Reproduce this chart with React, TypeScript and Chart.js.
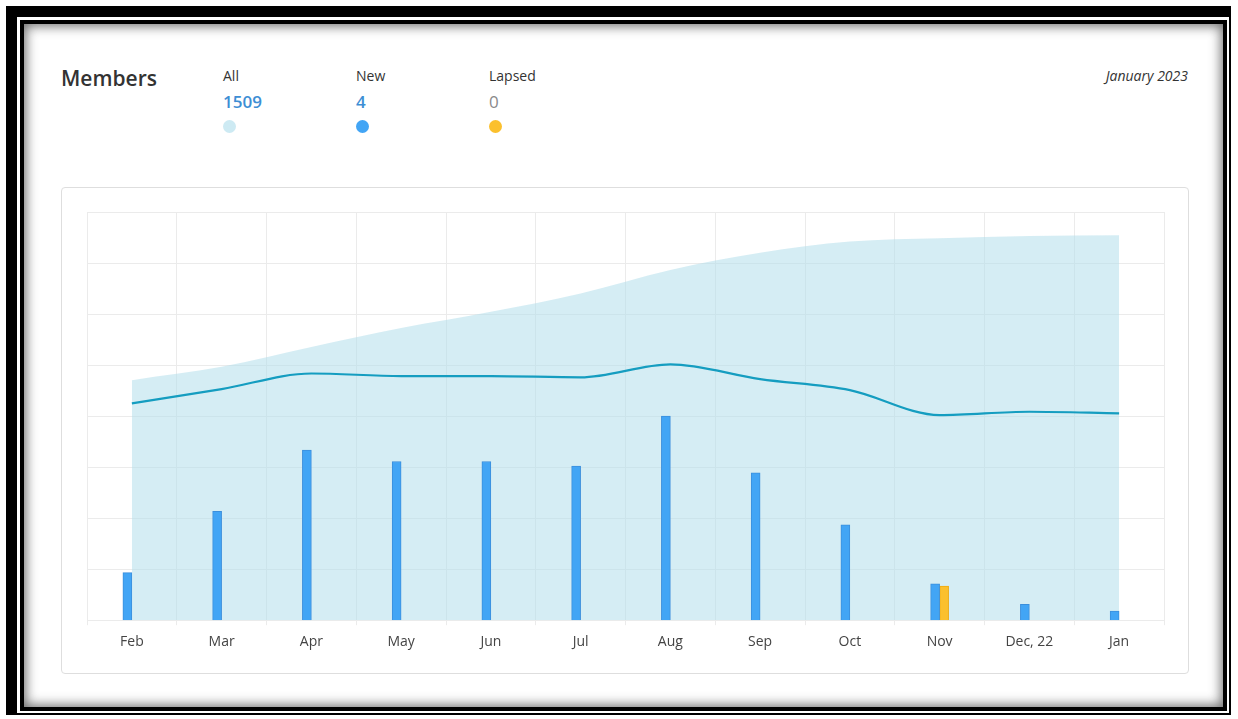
import React, { useEffect, useRef } from "react";
import { Chart, registerables } from "chart.js";

Chart.register(...registerables);

// ---- data ----
const months = ["Feb", "Mar", "Apr", "May", "Jun", "Jul", "Aug", "Sep", "Oct", "Nov", "Dec, 22", "Jan"];
const allMembers = [941, 993, 1071, 1145, 1209, 1281, 1373, 1440, 1484, 1497, 1506, 1509];
const trendLine = [850, 906, 967, 957, 957, 952, 1003, 945, 902, 804, 817, 811];
const newMembers = [21, 48, 75, 70, 70, 68, 90, 65, 42, 16, 7, 4];
const lapsedMembers = [0, 0, 0, 0, 0, 0, 0, 0, 0, 15, 0, 0];
const summaryLabels = ["All", "New", "Lapsed"];
const summaryValues = [1509, 4, 0];
const periodLabel = "January 2023";
const titleText = "Members";

const FONT = "'Open Sans', 'Noto Sans', sans-serif";
const GRID = "#ebebeb";

export default function App() {
  const canvasRef = useRef<HTMLCanvasElement | null>(null);

  useEffect(() => {
    const ctx = canvasRef.current;
    if (!ctx) return;
    const chart = new Chart(ctx, {
      type: "bar",
      data: {
        labels: months,
        datasets: [
          {
            type: "bar",
            label: "New",
            data: newMembers,
            yAxisID: "y1",
            backgroundColor: "#42a5f5",
            borderColor: "#3b8fdc",
            borderWidth: 1,
            barThickness: 9,
            order: 1,
          },
          {
            type: "bar",
            label: "Lapsed",
            data: lapsedMembers,
            yAxisID: "y1",
            backgroundColor: "#fbc02d",
            borderColor: "#eeab10",
            borderWidth: 1,
            barThickness: 9,
            order: 1,
          },
          {
            type: "line",
            label: "Trend",
            data: trendLine,
            yAxisID: "y",
            borderColor: "#159dc0",
            borderWidth: 2.2,
            pointRadius: 0,
            fill: false,
            cubicInterpolationMode: "monotone",
            order: 0,
          } as any,
          {
            type: "line",
            label: "All",
            data: allMembers,
            yAxisID: "y",
            borderWidth: 0,
            borderColor: "rgba(0,0,0,0)",
            backgroundColor: "rgba(178, 223, 235, 0.55)",
            pointRadius: 0,
            fill: "origin",
            cubicInterpolationMode: "monotone",
            order: 2,
          } as any,
        ],
      },
      options: {
        animation: false,
        responsive: false,
        maintainAspectRatio: false,
        layout: { padding: { left: 25, right: 24, top: 24, bottom: 15 } },
        plugins: {
          legend: { display: false },
          tooltip: { enabled: false },
        },
        scales: {
          x: {
            type: "category",
            offset: true,
            grid: { offset: true, color: GRID, tickLength: 5, drawTicks: true },
            border: { display: true, color: GRID },
            ticks: {
              color: "#444",
              font: { family: FONT, size: 14 },
              padding: 8,
              maxRotation: 0,
              autoSkip: false,
            },
          },
          y: {
            position: "left",
            min: 0,
            max: 1600,
            ticks: { display: false, stepSize: 200 },
            grid: { color: GRID, drawTicks: false },
            border: { display: false },
          },
          y1: {
            display: false,
            min: 0,
            max: 180,
          },
        },
      },
    } as any);
    return () => chart.destroy();
  }, []);

  const dotColors = ["#cdeaf3", "#42a5f5", "#fbc02d"];
  const valueColors = ["#3d8ed4", "#3d8ed4", "#8a8a8a"];
  const valueWeights = [600, 600, 400];
  const colX = [223, 356, 489];

  return (
    <div
      style={{
        position: "fixed",
        left: 0,
        top: 0,
        width: 1238,
        height: 719,
        background: "#fff",
        overflow: "hidden",
        fontFamily: FONT,
      }}
    >
      <div style={{ position: "absolute", left: 6, top: 6, width: 1225, height: 709, background: "#000" }} />
      <div style={{ position: "absolute", left: 17, top: 17, width: 1212, height: 696, background: "#fff" }} />
      <div style={{ position: "absolute", left: 20, top: 20, width: 1207, height: 691, background: "#000" }} />
      <div
        style={{
          position: "absolute",
          left: 24,
          top: 24,
          width: 1199,
          height: 683,
          background: "#fff",
          boxShadow: "inset 0 0 12px 2px rgba(60,60,60,0.75)",
        }}
      />

      <div
        style={{
          position: "absolute",
          left: 61,
          top: 68,
          fontSize: 21,
          lineHeight: "21px",
          fontWeight: 600,
          color: "#333",
          whiteSpace: "nowrap",
        }}
      >
        {titleText}
      </div>

      {summaryLabels.map((lab, i) => (
        <React.Fragment key={lab}>
          <div
            style={{
              position: "absolute",
              left: colX[i],
              top: 69,
              fontSize: 14,
              lineHeight: "14px",
              color: "#333",
              whiteSpace: "nowrap",
            }}
          >
            {lab}
          </div>
          <div
            style={{
              position: "absolute",
              left: colX[i],
              top: 93,
              fontSize: 17,
              lineHeight: "17px",
              fontWeight: valueWeights[i],
              color: valueColors[i],
              whiteSpace: "nowrap",
            }}
          >
            {summaryValues[i]}
          </div>
          <div
            style={{
              position: "absolute",
              left: colX[i],
              top: 120,
              width: 13,
              height: 13,
              borderRadius: "50%",
              background: dotColors[i],
            }}
          />
        </React.Fragment>
      ))}

      <div
        style={{
          position: "absolute",
          right: 50,
          top: 69,
          fontSize: 14,
          lineHeight: "14px",
          fontStyle: "italic",
          color: "#333",
          whiteSpace: "nowrap",
        }}
      >
        {periodLabel}
      </div>

      <div
        style={{
          position: "absolute",
          left: 61,
          top: 187,
          width: 1126,
          height: 485,
          border: "1px solid #dedede",
          borderRadius: 4,
          background: "#fff",
        }}
      >
        <canvas
          ref={canvasRef}
          width={1126}
          height={485}
          style={{ position: "absolute", left: 0, top: 0, width: 1126, height: 485 }}
        />
      </div>
    </div>
  );
}
